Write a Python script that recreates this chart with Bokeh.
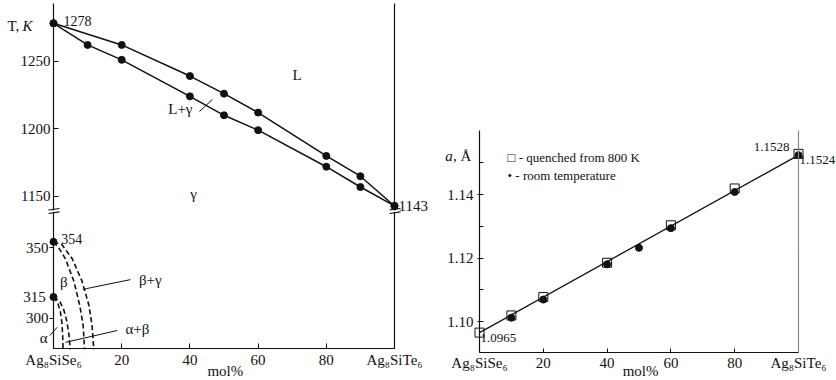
from bokeh.plotting import figure
from bokeh.models import Range1d, FixedTicker, Label, LinearAxis, PrintfTickFormatter
from bokeh.embed import file_html
from bokeh.resources import INLINE

FONT = "Liberation Serif"
BLACK = "#111111"
W, H = 836, 380

# ---- left panel: T-x phase diagram (Ag8SiSe6 - Ag8SiTe6) ----
liq_x = [0, 20, 40, 50, 60, 80, 90, 100]
liq_T = [1278, 1262, 1239, 1226, 1212, 1180, 1165, 1143]
sol_x = [0, 10, 20, 40, 50, 60, 80, 90, 100]
sol_T = [1278, 1262, 1251, 1224, 1210, 1199, 1172, 1157, 1143]

bg_in_x = [0, 1.5, 3.5, 6.0, 7.7, 8.7, 9.1]
bg_in_T = [354, 350, 342, 326, 309, 295, 278]
bg_out_x = [0, 2.5, 5.5, 8.4, 10.4, 11.3, 11.8]
bg_out_T = [354, 352, 342, 326, 309, 295, 278]
ab_in_x = [0, 1.2, 2.0, 2.5, 2.7, 2.8]
ab_in_T = [315, 311, 305, 296, 287, 278]
ab_out_x = [0, 1.8, 3.0, 3.9, 4.5, 4.9]
ab_out_T = [315, 312, 306, 298, 289, 278]
inv_x = [0, 0]
inv_T = [354, 315]

x_ticks = [0, 20, 40, 60, 80, 100]
x_labels = {0: "Ag₈SiSe₆", 20: "20", 40: "40", 60: "60", 80: "80", 100: "Ag₈SiTe₆"}
top_ticks = [1150, 1200, 1250]
low_ticks = [300, 350]
top_bounds = (1139.6, 1292.6)
low_bounds = (278.4, 374.9)

# ---- right panel: lattice parameter ----
sq_x = [0, 10, 20, 40, 60, 80, 100]
sq_a = [1.0965, 1.1019, 1.1077, 1.1185, 1.1303, 1.1419, 1.1528]
ci_x = [10, 20, 40, 50, 60, 80, 100]
ci_a = [1.1012, 1.1069, 1.1180, 1.1232, 1.1294, 1.1408, 1.1524]
fit_x = [0, 100]
fit_a = [1.0965, 1.1524]
a_ticks = [1.10, 1.12, 1.14]
a_minor = [1.11, 1.13, 1.15]
a_bounds = (1.0902, 1.1602)


def lin_range(v0, p0, v1, p1, size):
    k = (v1 - v0) / (p1 - p0)
    a = v0 + (0 - p0) * k
    b = v0 + (size - p0) * k
    return Range1d(min(a, b), max(a, b))


p = figure(width=W, height=H,
           x_range=lin_range(0, 53, 100, 394, W),
           y_range=lin_range(1250, 60.67, 1200, 128.33, H),
           x_axis_location=None, y_axis_location=None,
           toolbar_location=None, output_backend="svg", outline_line_color=None,
           min_border_left=0, min_border_right=0, min_border_top=0, min_border_bottom=0)
p.grid.visible = False
p.extra_x_ranges = {"r": lin_range(0, 479, 100, 798, W)}
p.extra_y_ranges = {"low": lin_range(350, 247, 300, 317.7, H),
                    "a": lin_range(1.14, 194, 1.10, 321, H)}


def style_axis(ax, size="15px"):
    ax.axis_line_color = BLACK
    ax.axis_line_width = 1.2
    ax.major_tick_line_color = BLACK
    ax.minor_tick_line_color = None
    ax.major_label_text_font = FONT
    ax.major_label_text_font_size = size
    ax.major_label_text_color = BLACK


def frame_line(xr, yr, loc, bounds, color=BLACK):
    ax = LinearAxis(x_range_name=xr, y_range_name=yr, fixed_location=loc, bounds=bounds,
                    ticker=FixedTicker(ticks=[], minor_ticks=[]))
    ax.axis_line_color = color
    ax.axis_line_width = 1.2
    ax.major_tick_line_color = None
    ax.minor_tick_line_color = None
    ax.major_label_text_font_size = "0px"
    p.add_layout(ax, "right")


# left panel axes
ax = LinearAxis(fixed_location=0, bounds=top_bounds, ticker=FixedTicker(ticks=top_ticks, minor_ticks=[]))
style_axis(ax)
ax.major_tick_in = 5
ax.major_tick_out = 0
ax.major_label_standoff = 3
p.add_layout(ax, "left")

ax = LinearAxis(y_range_name="low", fixed_location=0, bounds=low_bounds,
                ticker=FixedTicker(ticks=low_ticks, minor_ticks=[]))
style_axis(ax)
ax.major_tick_in = 0
ax.major_tick_out = 4
ax.major_label_standoff = 1
p.add_layout(ax, "left")

ax = LinearAxis(y_range_name="low", fixed_location=low_bounds[0], bounds=(0, 100),
                ticker=FixedTicker(ticks=x_ticks, minor_ticks=[]))
ax.major_label_overrides = x_labels
style_axis(ax)
ax.major_tick_in = 5
ax.major_tick_out = 0
ax.major_label_standoff = 3
p.add_layout(ax, "below")

frame_line("default", "default", 100, top_bounds)
frame_line("default", "low", 100, low_bounds)

# right panel axes
ax = LinearAxis(x_range_name="r", y_range_name="a", fixed_location=0, bounds=a_bounds,
                ticker=FixedTicker(ticks=a_ticks, minor_ticks=a_minor))
ax.formatter = PrintfTickFormatter(format="%.2f")
style_axis(ax)
ax.minor_tick_line_color = BLACK
ax.major_tick_in = 4
ax.major_tick_out = 2
ax.minor_tick_in = 4
ax.minor_tick_out = 0
ax.major_label_standoff = 4
p.add_layout(ax, "left")

ax = LinearAxis(x_range_name="r", y_range_name="a", fixed_location=a_bounds[0], bounds=(0, 100),
                ticker=FixedTicker(ticks=x_ticks, minor_ticks=[]))
ax.major_label_overrides = x_labels
style_axis(ax)
ax.major_tick_in = 4
ax.major_tick_out = 0
ax.major_label_standoff = 2
p.add_layout(ax, "below")

frame_line("r", "a", 100, a_bounds, color="#8a8a8a")

# ---- glyphs: left panel ----
p.line(liq_x, liq_T, line_color=BLACK, line_width=1.5)
p.line(sol_x, sol_T, line_color=BLACK, line_width=1.5)
p.scatter(liq_x, liq_T, size=7, color=BLACK)
p.scatter(sol_x, sol_T, size=7, color=BLACK)

for xs, ts in [(bg_in_x, bg_in_T), (bg_out_x, bg_out_T), (ab_in_x, ab_in_T), (ab_out_x, ab_out_T)]:
    p.line(xs, ts, y_range_name="low", line_color=BLACK, line_width=1.6, line_dash="5 3")
p.scatter(inv_x, inv_T, y_range_name="low", size=7, color=BLACK)

# axis break marks and leader lines
p.segment(x0=[-1.47, 98.53], y0=[1140.0, 1140.0], x1=[1.76, 101.76], y1=[1141.1, 1141.1],
          line_color=BLACK, line_width=1.1)
p.segment(x0=[-1.47, 98.53], y0=[374.1, 374.1], x1=[1.76, 101.76], y1=[375.2, 375.2],
          y_range_name="low", line_color=BLACK, line_width=1.1)
p.segment(x0=[42.8], y0=[1212.8], x1=[46.6], y1=[1221.7], line_color=BLACK, line_width=1)
p.segment(x0=[8.6, 3.5, -1.1], y0=[320.4, 282.9, 287.7], x1=[22.6, 18.7, 1.1], y1=[327.3, 291.3, 293.6],
          y_range_name="low", line_color=BLACK, line_width=1)

# ---- glyphs: right panel ----
p.scatter(sq_x, sq_a, x_range_name="r", y_range_name="a", marker="square", size=9,
          fill_color="white", line_color=BLACK, line_width=1)
p.line(fit_x, fit_a, x_range_name="r", y_range_name="a", line_color=BLACK, line_width=1.3)
p.scatter(ci_x, ci_a, x_range_name="r", y_range_name="a", marker="circle", size=7, color=BLACK)


def lab(x, y, text, size="15px", align="left", style="normal", xr="default", yr="default"):
    p.add_layout(Label(x=x, y=y, text=text, text_font=FONT, text_font_size=size,
                       text_align=align, text_baseline="middle", text_color=BLACK,
                       text_font_style=style, x_range_name=xr, y_range_name=yr))


lab(-13.5, 1276.3, "T,")
lab(-9.1, 1276.3, "K", style="italic")
lab(2.9, 1280, "1278", size="14px")
lab(70.1, 1240, "L")
lab(37.2, 1215, "L+γ", align="center")
lab(41.1, 1152.2, "γ", align="center")
lab(101.2, 1143, "1143")

lab(2.3, 356, "354", size="14px", yr="low")
lab(-2.3, 315, "315", align="right", yr="low")
lab(3.0, 325.6, "β", align="center", yr="low")
lab(28.4, 326.8, "β+γ", align="center", yr="low")
lab(24.6, 292.7, "α+β", align="center", yr="low")
lab(-2.9, 286.3, "α", align="center", yr="low")
lab(50.4, 262.6, "mol%", align="center", yr="low")

lab(-10.7, 1.1520, "a", style="italic", xr="r", yr="a")
lab(-8.3, 1.1520, ", Å", xr="r", yr="a")
lab(8.8, 1.15165, "□ - quenched from 800 K", size="13px", xr="r", yr="a")
lab(8.8, 1.14598, "• - room temperature", size="13px", xr="r", yr="a")
lab(97.2, 1.1551, "1.1528", size="13px", align="right", xr="r", yr="a")
lab(100.3, 1.1510, "1.1524", size="13px", xr="r", yr="a")
lab(0.3, 1.0948, "1.0965", size="13px", xr="r", yr="a")
lab(50.5, 1.0845, "mol%", align="center", xr="r", yr="a")

open("out.html", "w").write(file_html(p, INLINE))
